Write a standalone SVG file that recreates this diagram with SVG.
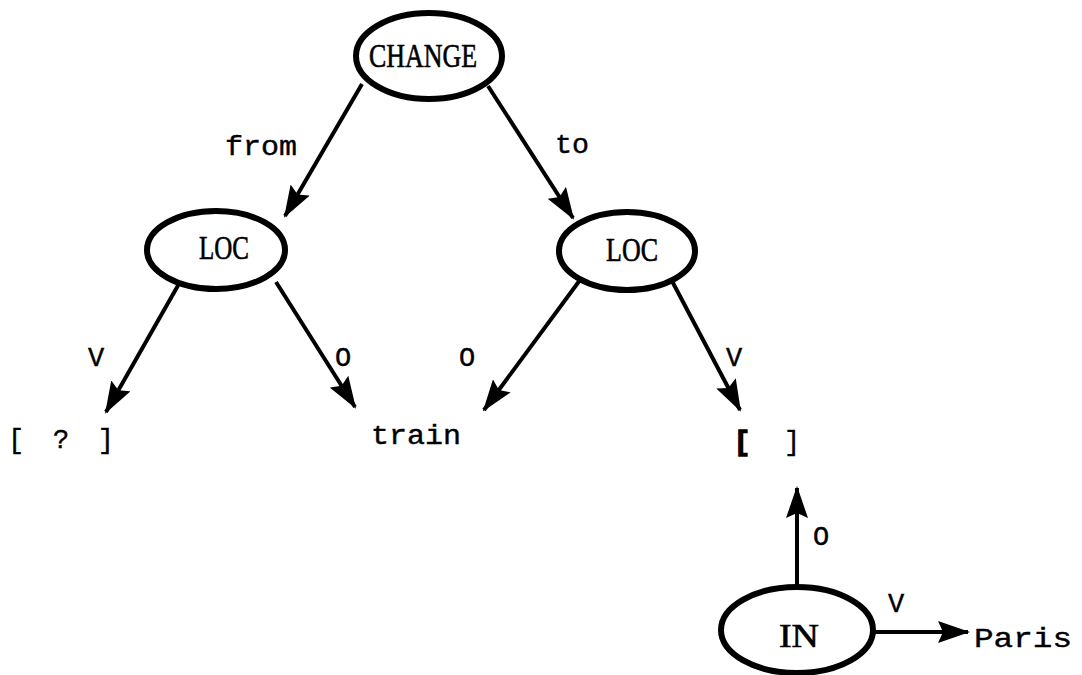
<svg xmlns="http://www.w3.org/2000/svg" width="1082" height="675" viewBox="0 0 1082 675">
<style>
.node{fill:none;stroke:#000;stroke-width:6}
.edge{stroke:#000;stroke-width:4;fill:none}
.nt{font-family:"Liberation Serif",serif;font-size:34px;text-anchor:middle;stroke:#000;stroke-width:0.6}
.lb{font-family:"Liberation Mono",monospace;font-size:27px;fill:#000;stroke:#000;stroke-width:0.4}
</style>
<defs>
<marker id="ah" viewBox="0 0 32 22" refX="30" refY="11" markerWidth="32" markerHeight="22" markerUnits="userSpaceOnUse" orient="auto">
<path d="M0,0 L32,11 L0,22 L5,11 Z" fill="#000"/>
</marker>
</defs>
<rect width="1082" height="675" fill="#fff"/>
<g id="connectors">
<line class="edge" x1="362" y1="84" x2="285" y2="216" marker-end="url(#ah)"/>
<line class="edge" x1="488" y1="86" x2="573" y2="218" marker-end="url(#ah)"/>
<line class="edge" x1="180" y1="282" x2="106" y2="412" marker-end="url(#ah)"/>
<line class="edge" x1="276" y1="282" x2="355" y2="407" marker-end="url(#ah)"/>
<line class="edge" x1="580" y1="280" x2="484" y2="410" marker-end="url(#ah)"/>
<line class="edge" x1="672" y1="281" x2="740" y2="410" marker-end="url(#ah)"/>
<line class="edge" x1="797" y1="587" x2="797" y2="488" marker-end="url(#ah)"/>
<line class="edge" x1="873" y1="632" x2="968" y2="632" marker-end="url(#ah)"/>
<text class="lb" x="225" y="155" textLength="72" lengthAdjust="spacingAndGlyphs">from</text>
<text class="lb" x="555" y="153" textLength="34" lengthAdjust="spacingAndGlyphs">to</text>
<text class="lb" x="88" y="366">V</text>
<text class="lb" x="335" y="366">O</text>
<text class="lb" x="459" y="366">O</text>
<text class="lb" x="726" y="366">V</text>
<text class="lb" x="813" y="545">O</text>
<text class="lb" x="888" y="612">V</text>
</g>
<g id="node-change">
<ellipse class="node" cx="429" cy="56" rx="73" ry="43"/>
<text class="nt" x="423" y="67" textLength="108" lengthAdjust="spacingAndGlyphs">CHANGE</text>
</g>
<g id="node-loc1">
<ellipse class="node" cx="216" cy="250" rx="69" ry="39"/>
<text class="nt" x="224" y="259" textLength="50" lengthAdjust="spacingAndGlyphs">LOC</text>
</g>
<g id="node-loc2">
<ellipse class="node" cx="627" cy="251" rx="68" ry="39"/>
<text class="nt" x="632" y="261" textLength="52" lengthAdjust="spacingAndGlyphs">LOC</text>
</g>
<g id="node-in">
<ellipse class="node" cx="797" cy="630" rx="76" ry="43"/>
<text class="nt" x="799" y="647" textLength="40" lengthAdjust="spacingAndGlyphs">IN</text>
</g>
<g id="node-unknown">
<text class="lb" x="8" y="448" textLength="106" lengthAdjust="spacing">[ ? ]</text>
</g>
<g id="node-train">
<text class="lb" x="371" y="444" textLength="90" lengthAdjust="spacingAndGlyphs">train</text>
</g>
<g id="node-empty">
<text class="lb" x="734" y="450" font-weight="bold" style="stroke-width:1.5">[</text>
<text class="lb" x="784" y="450">]</text>
</g>
<g id="node-paris">
<text class="lb" x="974" y="647" textLength="98" lengthAdjust="spacingAndGlyphs">Paris</text>
</g>
</svg>
